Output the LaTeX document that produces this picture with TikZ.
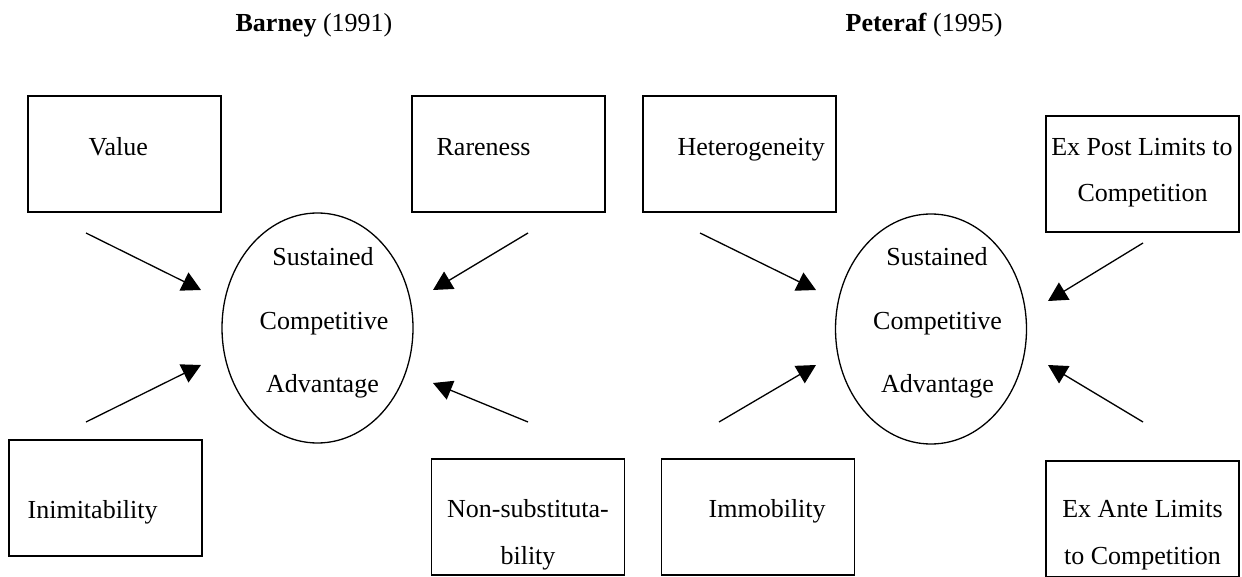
\documentclass[tikz,border=0pt]{standalone}
\usepackage{fontspec}
\setmainfont{Liberation Serif}
\usetikzlibrary{arrows.meta,shapes.geometric}
\begin{document}
\begin{tikzpicture}[x=0.5pt,y=-0.5pt,
  line width=0.65pt,
  every node/.style={font=\fontsize{13}{13}\selectfont, inner sep=0pt},
  factor/.style={draw, rectangle, minimum width=96.5pt, minimum height=58pt},
  outcome/.style={draw, ellipse, minimum width=95.5pt, minimum height=115pt},
  lbl/.style={anchor=base west},
  clbl/.style={anchor=base},
  influence/.style={-{Triangle[length=9.5pt,width=10pt]}}]
\useasboundingbox (0,0) rectangle (1242,577);

% column headings
\node[lbl] (barney) at (235,32) {\textbf{Barney} (1991)};
\node[lbl] (peteraf) at (845,32) {\textbf{Peteraf} (1995)};

% ---------------- Barney (1991) ----------------
\node[outcome] (sca1) at (317.5,328) {};
\node[clbl] (sca1a) at (323,265) {Sustained};
\node[clbl] (sca1b) at (324,329) {Competitive};
\node[clbl] (sca1c) at (322.5,392) {Advantage};

\node[factor] (value) at (124.5,154) {};
\node[lbl] at (88,156) {Value};
\node[factor] (rare) at (508.5,154) {};
\node[lbl] at (436,156) {Rareness};
\node[factor] (inimit) at (105.5,498) {};
\node[lbl] at (27,518) {Inimitability};
\node[factor] (nonsub) at (528,517) {};
\node[clbl] at (528,517) {Non-substituta-};
\node[clbl] at (528,564) {bility};

\coordinate (v0) at (86,233);   \coordinate (v1) at (201,290);
\coordinate (i0) at (86,422);   \coordinate (i1) at (201,365);
\coordinate (r0) at (528,233);  \coordinate (r1) at (433,290);
\coordinate (n0) at (528,422);  \coordinate (n1) at (433,383);
\draw[influence] (v0) -- (v1);
\draw[influence] (i0) -- (i1);
\draw[influence] (r0) -- (r1);
\draw[influence] (n0) -- (n1);

% ---------------- Peteraf (1995) ----------------
\node[outcome] (sca2) at (931,329) {};
\node[clbl] (sca2a) at (937,265) {Sustained};
\node[clbl] (sca2b) at (937.5,329) {Competitive};
\node[clbl] (sca2c) at (937.5,392) {Advantage};

\node[factor] (hetero) at (739.5,154) {};
\node[lbl] at (677,156) {Heterogeneity};
\node[factor] (expost) at (1142.5,174) {};
\node[clbl] at (1142,156) {Ex Post Limits to};
\node[clbl] at (1142.5,202) {Competition};
\node[factor] (immob) at (758,517) {};
\node[lbl] at (708,517) {Immobility};
\node[factor] (exante) at (1142.5,519) {};
\node[clbl] at (1142.5,517) {Ex Ante Limits};
\node[clbl] at (1142.5,564) {to Competition};

\coordinate (h0) at (700,233);   \coordinate (h1) at (816,290);
\coordinate (m0) at (719,422);   \coordinate (m1) at (816,365);
\coordinate (p0) at (1143,243);  \coordinate (p1) at (1048,301);
\coordinate (a0) at (1143,422);  \coordinate (a1) at (1048,365);
\draw[influence] (h0) -- (h1);
\draw[influence] (m0) -- (m1);
\draw[influence] (p0) -- (p1);
\draw[influence] (a0) -- (a1);
\end{tikzpicture}
\end{document}
